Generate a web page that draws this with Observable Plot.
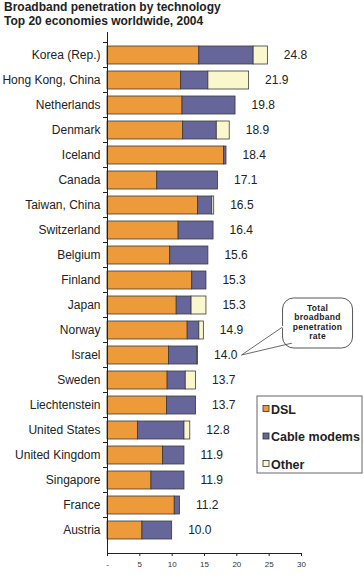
<!DOCTYPE html>
<html>
<head>
<meta charset="utf-8">
<script src="https://cdn.jsdelivr.net/npm/d3@7"></script>
<script src="https://cdn.jsdelivr.net/npm/@observablehq/plot@0.6"></script>
<style>
  html, body { margin: 0; padding: 0; background: #fff; }
  #title { font-family: Arial, "Liberation Sans", sans-serif; font-weight: bold; font-size: 12px; line-height: 14px; color: #222; padding-left: 4px; height: 28px; }
  #chart svg { display: block; }
</style>
</head>
<body>
<div id="title">Broadband penetration by technology<br>Top 20 economies worldwide, 2004</div>
<div id="chart"></div>
<script>
const countries = ["Korea (Rep.)", "Hong Kong, China", "Netherlands", "Denmark", "Iceland", "Canada", "Taiwan, China", "Switzerland", "Belgium", "Finland", "Japan", "Norway", "Israel", "Sweden", "Liechtenstein", "United States", "United Kingdom", "Singapore", "France", "Austria"];
const dsl   = [14.2, 11.4, 11.6, 11.7, 18.0, 7.7, 14.0, 11.0, 9.7, 13.1, 10.7, 12.4, 9.5, 9.3, 9.2, 4.7, 8.6, 6.8, 10.4, 5.4];
const cable = [8.4, 4.2, 8.2, 5.2, 0.4, 9.4, 2.2, 5.4, 5.9, 2.2, 2.3, 1.8, 4.4, 2.8, 4.5, 7.2, 3.3, 5.1, 0.8, 4.6];
const other = [2.2, 6.3, 0, 2.0, 0, 0, 0.3, 0, 0, 0, 2.3, 0.7, 0.1, 1.6, 0, 0.9, 0, 0, 0, 0];
const totals = [24.8, 21.9, 19.8, 18.9, 18.4, 17.1, 16.5, 16.4, 15.6, 15.3, 15.3, 14.9, 14.0, 13.7, 13.7, 12.8, 11.9, 11.9, 11.2, 10.0];
const techs = ["DSL", "Cable modems", "Other"];
const techColors = ["#EC9A3A", "#66669A", "#FAF7CC"];
const xTicks = [0, 5, 10, 15, 20, 25, 30];
const xTickLabels = ["-", "5", "10", "15", "20", "25", "30"];
const calloutLines = ["Total", "broadband", "penetration", "rate"];
const calloutCountry = "Israel";

const seriesByTech = [dsl, cable, other];
const rows = [];
countries.forEach((c, i) => {
  techs.forEach((t, j) => rows.push({country: c, tech: t, value: seriesByTech[j][i]}));
});
const totalRows = countries.map((c, i) => ({country: c, total: totals[i]}));

const font = 'Arial, "Liberation Sans", sans-serif';
const bandHalf = 13;

const chart = Plot.plot({
  width: 364,
  height: 547,
  marginLeft: 107,
  marginRight: 63,
  marginTop: 4,
  marginBottom: 22,
  style: {fontFamily: font, color: "#222", background: "#fff", overflow: "visible"},
  x: {domain: [0, 30]},
  y: {domain: countries, padding: 0.3},
  color: {domain: techs, range: techColors},
  marks: [
    Plot.barX(rows, Plot.stackX({x: "value", y: "country", fill: "tech", order: techs, stroke: "#3a3a3a", strokeWidth: 0.8})),
    Plot.ruleX([0], {stroke: "#222", strokeWidth: 1}),
    Plot.frame({anchor: "bottom", stroke: "#222"}),
    Plot.axisY({tickSize: 0, tickPadding: 7, fontSize: 12, label: null, fill: "#222"}),
    Plot.axisY({text: null, tickSize: 4, dy: -bandHalf, label: null, stroke: "#222"}),
    Plot.axisX({ticks: xTicks, tickFormat: (d, i) => xTickLabels[xTicks.indexOf(d)], tickSize: 3, tickPadding: 5, fontSize: 8, label: null, fill: "#333"}),
    Plot.text(totalRows, {x: "total", y: "country", text: d => d.total.toFixed(1), textAnchor: "start", dx: 16, fontSize: 12, fill: "#222"})
  ]
});
document.getElementById("chart").appendChild(chart);

// annotation callout and legend
const svg = d3.select(chart);
const xs = chart.scale("x"), ys = chart.scale("y");
const idx = countries.indexOf(calloutCountry);
const tipX = xs.apply(totals[idx]) + 44;
const tipY = ys.apply(calloutCountry) + ys.bandwidth / 2;
const bx = tipX + 41, by = tipY - 57, bw = 70, bh = 50;
const g = svg.append("g");
g.append("rect").attr("x", bx).attr("y", by).attr("width", bw).attr("height", bh)
  .attr("rx", 11).attr("fill", "#fff").attr("stroke", "#444").attr("stroke-width", 0.9);
g.append("path").attr("d", `M${bx},${by + 29} L${tipX},${tipY} L${bx + 10},${by + bh - 5}`)
  .attr("fill", "none").attr("stroke", "#444").attr("stroke-width", 0.8);
g.append("path").attr("d", `M${bx},${by + 28} L${bx + 11},${by + bh - 4}`)
  .attr("stroke", "#fff").attr("stroke-width", 2);
calloutLines.forEach((t, i) => {
  g.append("text").attr("x", bx + bw / 2).attr("y", by + 12.5 + i * 9.5)
    .attr("text-anchor", "middle").attr("font-family", font).attr("font-weight", "bold")
    .attr("font-size", 8.5).attr("letter-spacing", 0.3).attr("fill", "#222").text(t);
});

const lg = svg.append("g").attr("text-anchor", "start");
const lx = 257, ly = 368;
lg.append("rect").attr("x", lx).attr("y", ly).attr("width", 105).attr("height", 77)
  .attr("fill", "#fff").attr("stroke", "#666").attr("stroke-width", 1);
techs.forEach((t, i) => {
  const cy = ly + 13 + i * 27.5;
  lg.append("rect").attr("x", lx + 6).attr("y", cy - 3.5).attr("width", 6).attr("height", 6)
    .attr("fill", techColors[i]).attr("stroke", "#333").attr("stroke-width", 0.8);
  lg.append("text").attr("x", lx + 14).attr("y", cy + 4.5).attr("text-anchor", "start").attr("font-family", font)
    .attr("font-weight", "bold").attr("font-size", 12.5).attr("fill", "#222").text(t);
});
</script>
</body>
</html>
